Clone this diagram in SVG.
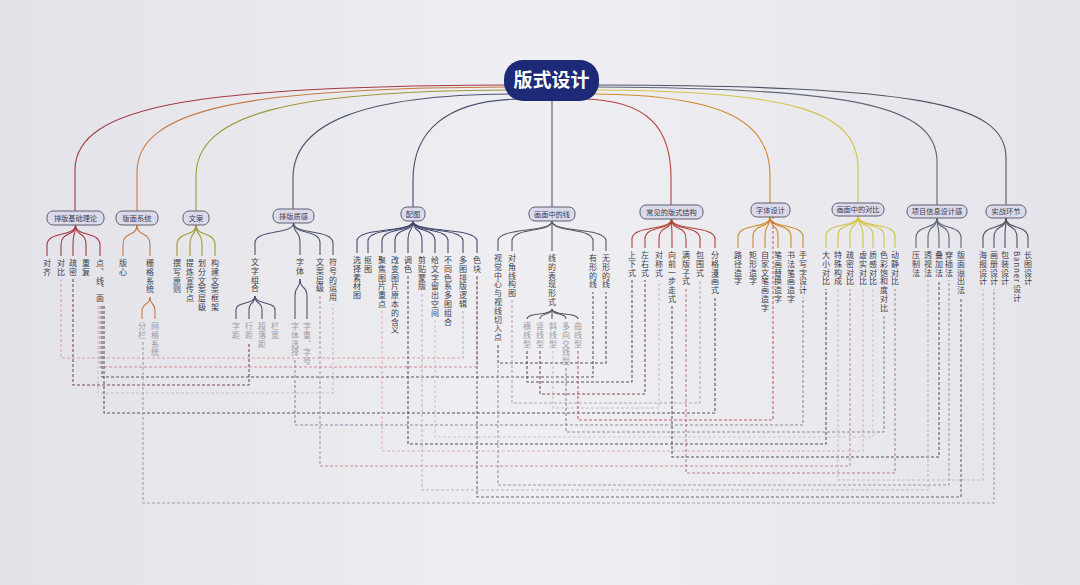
<svg xmlns="http://www.w3.org/2000/svg" width="1080" height="585" viewBox="0 0 1080 585">
<defs>
<linearGradient id="bg" x1="0" y1="0" x2="1" y2="0">
<stop offset="0" stop-color="#e3e2e8"/><stop offset="0.5" stop-color="#efeef2"/><stop offset="1" stop-color="#e5e4ea"/>
</linearGradient>
<style>
.t{font-family:"Noto Sans CJK SC","Noto Sans",sans-serif}
.lf{font-family:"Noto Sans CJK SC","Noto Sans",sans-serif;font-size:8px;fill:#3e3e4a;writing-mode:vertical-rl;letter-spacing:0.8px}
.sl{font-family:"Noto Sans CJK SC","Noto Sans",sans-serif;font-size:8px;fill:#9a9aa6;writing-mode:vertical-rl;letter-spacing:0.8px}
.box{fill:#dbdaea;stroke:#5f5f72;stroke-width:1}
.bt{font-family:"Noto Sans CJK SC","Noto Sans",sans-serif;font-size:7.2px;fill:#3a3a50;text-anchor:middle}
.c path{fill:none;stroke-width:1.1}
.d path{fill:none;stroke-width:1.1;stroke-dasharray:3 2}
</style>
</defs>
<rect width="1080" height="585" fill="url(#bg)"/>

<g id="connectors">
<g class="c">
<path stroke="#a33a44" d="M506,85 C200,86 75,105 75,170 L75,211"/>
<path stroke="#c57a45" d="M506,87 C250,88 137,108 137,172 L137,211"/>
<path stroke="#9c9a38" d="M507,90 C290,91 196,114 196,176 L196,211"/>
<path stroke="#4e5670" d="M510,94 C365,95 293,122 293,178 L293,209"/>
<path stroke="#474e6e" d="M520,99 C445,100 413,132 413,180 L413,207"/>
<path stroke="#565a66" d="M552,101 L552,207"/>
<path stroke="#b0463a" d="M583,99 C650,100 671,130 671,178 L671,205"/>
<path stroke="#d08a2a" d="M594,94 C725,95 770,122 770,175 L770,203"/>
<path stroke="#d2c44a" d="M597,90 C795,91 858,112 858,168 L858,203"/>
<path stroke="#5e6678" d="M598,87 C855,88 937,106 937,162 L937,205"/>
<path stroke="#4e5466" d="M598,85 C915,86 1006,102 1006,158 L1006,205"/>
</g>
<g class="c" stroke="#a33a44">
<path d="M75.5,225 C75.5,237 47,231 47,245 V256"/>
<path d="M75.5,225 C75.5,237 61,231 61,245 V256"/>
<path d="M75.5,225 C75.5,237 73,231 73,245 V256"/>
<path d="M75.5,225 C75.5,237 86,231 86,245 V256"/>
<path d="M75.5,225 C75.5,237 100,231 100,245 V256"/>
</g>
<g class="c" stroke="#c57a45">
<path d="M137,225 C137,237 123,231 123,245 V256"/>
<path d="M137,225 C137,237 150,231 150,245 V256"/>
<path d="M150,297 C150,306 142,302 142,311 V319"/>
<path d="M150,297 C150,306 155,302 155,311 V319"/>
</g>
<g class="c" stroke="#9c9a38">
<path d="M196,225 C196,237 177,231 177,245 V256"/>
<path d="M196,225 C196,237 190,231 190,245 V256"/>
<path d="M196,225 C196,237 202,231 202,245 V256"/>
<path d="M196,225 C196,237 215,231 215,245 V256"/>
</g>
<g class="c" stroke="#4e5670">
<path d="M293.5,223 C293.5,235 255,229 255,243 V255"/>
<path d="M293.5,223 C293.5,235 300,229 300,243 V255"/>
<path d="M293.5,223 C293.5,235 320,229 320,243 V255"/>
<path d="M293.5,223 C293.5,235 333,229 333,243 V255"/>
<path d="M255,296 C255,305 236,301 236,310 V319"/>
<path d="M255,296 C255,305 249,301 249,310 V319"/>
<path d="M255,296 C255,305 262,301 262,310 V319"/>
<path d="M255,296 C255,305 275,301 275,310 V319"/>
<path d="M300,279 C300,290 295,285 295,296 V319"/>
<path d="M300,279 C300,290 307,285 307,296 V319"/>
</g>
<g class="c" stroke="#474e6e">
<path d="M413,221 C413,233 357,227 357,241 V253"/>
<path d="M413,221 C413,233 368,227 368,241 V253"/>
<path d="M413,221 C413,233 382,227 382,241 V253"/>
<path d="M413,221 C413,233 395,227 395,241 V253"/>
<path d="M413,221 C413,233 408,227 408,241 V253"/>
<path d="M413,221 C413,233 422,227 422,241 V253"/>
<path d="M413,221 C413,233 435,227 435,241 V253"/>
<path d="M413,221 C413,233 448,227 448,241 V253"/>
<path d="M413,221 C413,233 463,227 463,241 V253"/>
<path d="M413,221 C413,233 477,227 477,241 V253"/>
</g>
<g class="c" stroke="#565a66">
<path d="M552,221 C552,233 498,227 498,241 V251"/>
<path d="M552,221 C552,233 512,227 512,241 V251"/>
<path d="M552,221 V251"/>
<path d="M552,221 C552,233 593,227 593,241 V251"/>
<path d="M552,221 C552,233 606,227 606,241 V251"/>
<path d="M552,309 C552,316 527,312 527,319"/>
<path d="M552,309 C552,316 540,312 540,319"/>
<path d="M552,309 V319"/>
<path d="M552,309 C552,316 566,312 566,319"/>
<path d="M552,309 C552,316 578,312 578,319"/>
</g>
<g class="c" stroke="#b0463a">
<path d="M671.5,219 C671.5,231 632,225 632,239 V248"/>
<path d="M671.5,219 C671.5,231 645,225 645,239 V248"/>
<path d="M671.5,219 C671.5,231 659,225 659,239 V248"/>
<path d="M671.5,219 C671.5,231 672,225 672,239 V248"/>
<path d="M671.5,219 C671.5,231 686,225 686,239 V248"/>
<path d="M671.5,219 C671.5,231 700,225 700,239 V248"/>
<path d="M671.5,219 C671.5,231 715,225 715,239 V248"/>
</g>
<g class="c" stroke="#d08a2a">
<path d="M770,217 C770,229 738,223 738,237 V248"/>
<path d="M770,217 C770,229 753,223 753,237 V248"/>
<path d="M770,217 C770,229 765,223 765,237 V248"/>
<path d="M770,217 C770,229 778,223 778,237 V248"/>
<path d="M770,217 C770,229 791,223 791,237 V248"/>
<path d="M770,217 C770,229 803,223 803,237 V248"/>
</g>
<g class="c" stroke="#d2c44a">
<path d="M858,216 C858,228 826,222 826,236 V248"/>
<path d="M858,216 C858,228 838,222 838,236 V248"/>
<path d="M858,216 C858,228 850,222 850,236 V248"/>
<path d="M858,216 C858,228 863,222 863,236 V248"/>
<path d="M858,216 C858,228 873,222 873,236 V248"/>
<path d="M858,216 C858,228 884,222 884,236 V248"/>
<path d="M858,216 C858,228 895,222 895,236 V248"/>
</g>
<g class="c" stroke="#5e6678">
<path d="M937,218 C937,230 916,224 916,238 V248"/>
<path d="M937,218 C937,230 928,224 928,238 V248"/>
<path d="M937,218 C937,230 939,224 939,238 V248"/>
<path d="M937,218 C937,230 949,224 949,238 V248"/>
<path d="M937,218 C937,230 961,224 961,238 V248"/>
</g>
<g class="c" stroke="#4e5466">
<path d="M1006,218 C1006,230 983,224 983,238 V248"/>
<path d="M1006,218 C1006,230 994,224 994,238 V248"/>
<path d="M1006,218 C1006,230 1005,224 1005,238 V248"/>
<path d="M1006,218 C1006,230 1017,224 1017,238 V248"/>
<path d="M1006,218 C1006,230 1028,224 1028,238 V248"/>
</g>
<g class="d">
<path stroke="#d6a6aa" d="M61,279 V358 H463 V311"/>
<path stroke="#d88890" d="M100,306 V367 H477 V276"/>
<path stroke="#5a5a66" d="M102,306 V377 H593 V292"/>
<path stroke="#7a4a5a" d="M73,279 V385 H249 V342"/>
<path stroke="#c8c0cc" d="M98,306 V393 H333 V304"/>
<path stroke="#55556a" d="M104,306 V413 H715 V297"/>
<path stroke="#8a8aa6" d="M295,360 V425 H803 V297"/>
<path stroke="#55556a" d="M408,276 V444 H826 V289"/>
<path stroke="#e0b0b4" d="M382,311 V451 H863 V289"/>
<path stroke="#c09098" d="M320,296 V466 H850 V289"/>
<path stroke="#6a6a78" d="M477,276 V497 H961 V297"/>
<path stroke="#a0a0ae" d="M143,342 V503 H994 V289"/>
<path stroke="#55556a" d="M498,345 V363 H606 V292"/>
<path stroke="#b8a8ac" d="M512,300 V403 H700 V280"/>
<path stroke="#55556a" d="M527,351 V382 H632 V280"/>
<path stroke="#8a4a52" d="M540,351 V394 H645 V280"/>
<path stroke="#c8c0c8" d="M553,351 V408 H659 V280"/>
<path stroke="#8a8a9a" d="M566,368 V432 H884 V315"/>
<path stroke="#c06068" d="M578,351 V420 H773 V217"/>
<path stroke="#9a9aa8" d="M498,345 V485 H949 V280"/>
<path stroke="#b88088" d="M686,289 V473 H895 V289"/>
<path stroke="#55556a" d="M672,306 V457 H939 V280"/>
<path stroke="#c0c0cc" d="M838,289 V480 H983 V289"/>
<path stroke="#b8b8c6" d="M422,294 V490 H928 V280"/>
<path stroke="#c8c8d2" d="M435,320 V437 H873 V289"/>
</g>
</g>

<g id="node-title">
<rect x="504" y="60" width="95" height="41" rx="19" fill="#1c2a78"/>
<text class="t" x="551.5" y="87" font-size="19" font-weight="bold" fill="#ffffff" text-anchor="middle">版式设计</text>
</g>

<g id="node-c1"><rect class="box" x="47" y="211" width="57" height="14" rx="6"/><text class="bt" x="75.5" y="220.8">排版基础理论</text></g>
<g id="node-c2"><rect class="box" x="116" y="211" width="42" height="14" rx="6"/><text class="bt" x="137" y="220.8">版面系统</text></g>
<g id="node-c3"><rect class="box" x="183" y="211" width="26" height="14" rx="6"/><text class="bt" x="196" y="220.8">文案</text></g>
<g id="node-c4"><rect class="box" x="273" y="209" width="41" height="14" rx="6"/><text class="bt" x="293.5" y="218.8">排版质感</text></g>
<g id="node-c5"><rect class="box" x="401" y="207" width="24" height="14" rx="6"/><text class="bt" x="413" y="216.8">配图</text></g>
<g id="node-c6"><rect class="box" x="529" y="207" width="46" height="14" rx="6"/><text class="bt" x="552" y="216.8">画面中的线</text></g>
<g id="node-c7"><rect class="box" x="640" y="205" width="63" height="14" rx="6"/><text class="bt" x="671.5" y="214.8">常见的版式结构</text></g>
<g id="node-c8"><rect class="box" x="751" y="203" width="39" height="14" rx="6"/><text class="bt" x="770.5" y="212.8">字体设计</text></g>
<g id="node-c9"><rect class="box" x="832" y="203" width="52" height="13" rx="6"/><text class="bt" x="858" y="212.3">画面中的对比</text></g>
<g id="node-c10"><rect class="box" x="907" y="205" width="60" height="13" rx="6"/><text class="bt" x="937" y="214.3">项目信息设计感</text></g>
<g id="node-c11"><rect class="box" x="986" y="205" width="40" height="13" rx="6"/><text class="bt" x="1006" y="214.3">实战环节</text></g>

<g id="leaves-c1">
<g id="l1-1"><text class="lf" x="47" y="259">对齐</text></g>
<g id="l1-2"><text class="lf" x="61" y="259">对比</text></g>
<g id="l1-3"><text class="lf" x="73" y="259">疏密</text></g>
<g id="l1-4"><text class="lf" x="86" y="259">重复</text></g>
<g id="l1-5"><text class="lf" x="100" y="259">点、线、面</text></g>
</g>
<g id="leaves-c2">
<g id="l2-1"><text class="lf" x="123" y="259">版心</text></g>
<g id="l2-2"><text class="lf" x="150" y="259">栅格系统</text></g>
<g id="l2-3"><text class="sl" x="142" y="322">分栏</text></g>
<g id="l2-4"><text class="sl" x="155" y="322">网格系统</text></g>
</g>
<g id="leaves-c3">
<g id="l3-1"><text class="lf" x="177" y="259">撰写原则</text></g>
<g id="l3-2"><text class="lf" x="190" y="259">提炼宣传点</text></g>
<g id="l3-3"><text class="lf" x="202" y="259">划分文案层级</text></g>
<g id="l3-4"><text class="lf" x="215" y="259">构建文案框架</text></g>
</g>
<g id="leaves-c4">
<g id="l4-1"><text class="lf" x="255" y="258">文字组合</text></g>
<g id="l4-2"><text class="lf" x="300" y="258">字体</text></g>
<g id="l4-3"><text class="lf" x="320" y="258">文案层级</text></g>
<g id="l4-4"><text class="lf" x="333" y="258">符号的运用</text></g>
<g id="l4-5"><text class="sl" x="236" y="322">字距</text></g>
<g id="l4-6"><text class="sl" x="249" y="322">行距</text></g>
<g id="l4-7"><text class="sl" x="262" y="322">段落距</text></g>
<g id="l4-8"><text class="sl" x="275" y="322">栏宽</text></g>
<g id="l4-9"><text class="sl" x="295" y="322">字体选择</text></g>
<g id="l4-10"><text class="sl" x="307" y="322">字重、字号</text></g>
</g>
<g id="leaves-c5">
<g id="l5-1"><text class="lf" x="357" y="256">选择素材图</text></g>
<g id="l5-2"><text class="lf" x="368" y="256">抠图</text></g>
<g id="l5-3"><text class="lf" x="382" y="256">聚焦图片重点</text></g>
<g id="l5-4"><text class="lf" x="395" y="256">改变图片原本的含义</text></g>
<g id="l5-5"><text class="lf" x="408" y="256">调色</text></g>
<g id="l5-6"><text class="lf" x="422" y="256">剪贴蒙版</text></g>
<g id="l5-7"><text class="lf" x="435" y="256">给文字留出空间</text></g>
<g id="l5-8"><text class="lf" x="448" y="256">不同色系多图组合</text></g>
<g id="l5-9"><text class="lf" x="463" y="256">多图排版逻辑</text></g>
<g id="l5-10"><text class="lf" x="477" y="256">色块</text></g>
</g>
<g id="leaves-c6">
<g id="l6-1"><text class="lf" x="498" y="254">视觉中心与视线切入点</text></g>
<g id="l6-2"><text class="lf" x="512" y="254">对角线构图</text></g>
<g id="l6-3"><text class="lf" x="552" y="254">线的表现形式</text></g>
<g id="l6-4"><text class="lf" x="593" y="254">有形的线</text></g>
<g id="l6-5"><text class="lf" x="606" y="254">无形的线</text></g>
<g id="l6-6"><text class="sl" x="527" y="322">横线型</text></g>
<g id="l6-7"><text class="sl" x="540" y="322">竖线型</text></g>
<g id="l6-8"><text class="sl" x="553" y="322">斜线型</text></g>
<g id="l6-9"><text class="sl" x="566" y="322">多向交线型</text></g>
<g id="l6-10"><text class="sl" x="578" y="322">曲线型</text></g>
</g>
<g id="leaves-c7">
<g id="l7-1"><text class="lf" x="632" y="251">上下式</text></g>
<g id="l7-2"><text class="lf" x="645" y="251">左右式</text></g>
<g id="l7-3"><text class="lf" x="659" y="251">对称式</text></g>
<g id="l7-4"><text class="lf" x="672" y="251">向前一步走式</text></g>
<g id="l7-5"><text class="lf" x="686" y="251">满版子式</text></g>
<g id="l7-6"><text class="lf" x="700" y="251">包围式</text></g>
<g id="l7-7"><text class="lf" x="715" y="251">分格漫画式</text></g>
</g>
<g id="leaves-c8">
<g id="l8-1"><text class="lf" x="738" y="251">路径造字</text></g>
<g id="l8-2"><text class="lf" x="753" y="251">矩形造字</text></g>
<g id="l8-3"><text class="lf" x="765" y="251">自家文笔画造字</text></g>
<g id="l8-4"><text class="lf" x="778" y="251">笔画替换造字</text></g>
<g id="l8-5"><text class="lf" x="791" y="251">书法笔画造字</text></g>
<g id="l8-6"><text class="lf" x="803" y="251">手写字设计</text></g>
</g>
<g id="leaves-c9">
<g id="l9-1"><text class="lf" x="826" y="251">大小对比</text></g>
<g id="l9-2"><text class="lf" x="838" y="251">特殊构成</text></g>
<g id="l9-3"><text class="lf" x="850" y="251">疏密对比</text></g>
<g id="l9-4"><text class="lf" x="863" y="251">虚实对比</text></g>
<g id="l9-5"><text class="lf" x="873" y="251">质感对比</text></g>
<g id="l9-6"><text class="lf" x="884" y="251">色彩饱和度对比</text></g>
<g id="l9-7"><text class="lf" x="895" y="251">动静对比</text></g>
</g>
<g id="leaves-c10">
<g id="l10-1"><text class="lf" x="916" y="251">压制法</text></g>
<g id="l10-2"><text class="lf" x="928" y="251">透视法</text></g>
<g id="l10-3"><text class="lf" x="939" y="251">叠加法</text></g>
<g id="l10-4"><text class="lf" x="949" y="251">穿插法</text></g>
<g id="l10-5"><text class="lf" x="961" y="251">版面溢出法</text></g>
</g>
<g id="leaves-c11">
<g id="l11-1"><text class="lf" x="983" y="251">海报设计</text></g>
<g id="l11-2"><text class="lf" x="994" y="251">画册设计</text></g>
<g id="l11-3"><text class="lf" x="1005" y="251">包装设计</text></g>
<g id="l11-4"><text class="lf" x="1017" y="251">Banner 设计</text></g>
<g id="l11-5"><text class="lf" x="1028" y="251">长图设计</text></g>
</g>
</svg>
